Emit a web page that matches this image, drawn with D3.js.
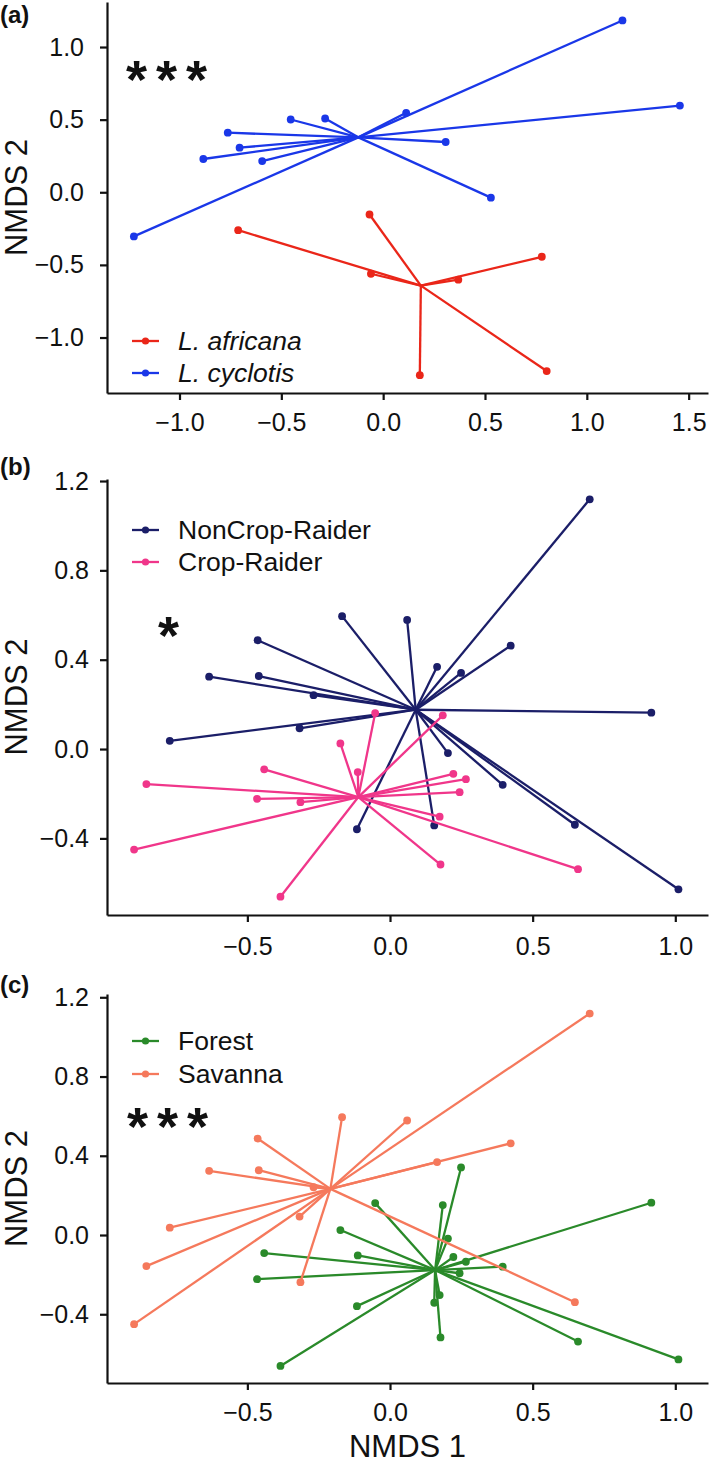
<!DOCTYPE html>
<html>
<head>
<meta charset="utf-8">
<script src="https://cdn.jsdelivr.net/npm/d3@7"></script>
<style>
body { margin: 0; background: #fff; }
text { font-family: "Liberation Sans", Arial, sans-serif; fill: #111; }
.axis path, .axis line { stroke: #111; stroke-width: 2.2; }
.axis text { font-size: 25px; }
</style>
</head>
<body>
<svg id="chart" width="709" height="1469"></svg>
<script>
// (a) species
var speciesNames = ["L. africana", "L. cyclotis"];
var africanaX = [-0.067, -0.712, -0.060, 0.369, 0.779, 0.180, 0.803];
var africanaY = [-0.153, -0.261, -0.561, -0.602, -0.444, -1.259, -1.231];
var cyclotisX = [1.175, 1.457, 0.113, -0.285, -0.454, -0.763, -0.705, -0.883, -0.594, 0.307, 0.529, -1.224];
var cyclotisY = [1.183, 0.597, 0.547, 0.508, 0.501, 0.410, 0.307, 0.229, 0.215, 0.346, -0.037, -0.304];
var speciesCentroidX = [0.185, -0.122];
var speciesCentroidY = [-0.643, 0.378];

// (b) and (c) plot the same individuals, grouped two ways
var sampleX = [0.700, 0.060, -0.168, -0.464, 0.423, 0.165, 0.249, -0.634, -0.460, -0.268,
               -0.317, -0.772, 0.916, 0.203, 0.395, 0.155, -0.116, 0.648, 1.011,
               -0.052, 0.185, -0.174, -0.113, -0.441, -0.854, -0.466, -0.314, 0.222, 0.266,
               0.244, 0.174, -0.897, 0.177, 0.659, -0.384];
var sampleY = [1.118, 0.578, 0.595, 0.487, 0.463, 0.368, 0.341, 0.324, 0.327, 0.241,
               0.093, 0.037, 0.163, -0.018, -0.160, -0.342, -0.359, -0.339, -0.628,
               0.161, 0.151, 0.025, -0.103, -0.091, -0.157, -0.223, -0.238, -0.111, -0.135,
               -0.193, -0.303, -0.450, -0.517, -0.538, -0.661];
var cropStatus = ["N","N","N","N","N","N","N","N","N","N","N","N","N","N","N","N","N","N","N",
                  "C","C","C","C","C","C","C","C","C","C","C","C","C","C","C","C"];
var habitat = ["S","S","S","S","S","S","F","S","S","S","S","S","F","F","F","F","F","S","F",
               "F","F","F","F","F","S","F","S","F","F","F","F","S","F","F","F"];

var cropNames = ["NonCrop-Raider", "Crop-Raider"];
var cropCodes = ["N", "C"];
var cropCentroidX = [0.090, -0.111];
var cropCentroidY = [0.176, -0.215];

var habitatNames = ["Forest", "Savanna"];
var habitatCodes = ["F", "S"];
var habitatCentroidX = [0.158, -0.209];
var habitatCentroidY = [-0.177, 0.233];

var ticksA_x = [-1.0, -0.5, 0.0, 0.5, 1.0, 1.5];
var ticksA_y = [-1.0, -0.5, 0.0, 0.5, 1.0];
var ticksBC_x = [-0.5, 0.0, 0.5, 1.0];
var ticksBC_y = [-0.4, 0.0, 0.4, 0.8, 1.2];

var svg = d3.select("#chart");
var left = 107, right = 708;
var fmt = d3.format(".1f");

function pick(arr, codes, code) {
    return arr.filter(function (d, i) { return codes[i] === code; });
}

function drawPanel(p) {
    var g = svg.append("g").attr("transform", "translate(0," + p.top + ")");
    var x = d3.scaleLinear().domain(p.xDomain).range([left, right]);
    var y = d3.scaleLinear().domain(p.yDomain).range([p.height, 0]);

    g.append("g")
        .attr("class", "axis")
        .attr("transform", "translate(0," + p.height + ")")
        .call(d3.axisBottom(x).tickValues(p.xTicks).tickFormat(fmt)
            .tickSize(7).tickSizeOuter(0).tickPadding(p.xPad));

    g.append("g")
        .attr("class", "axis")
        .attr("transform", "translate(" + left + ",0)")
        .call(d3.axisLeft(y).tickValues(p.yTicks).tickFormat(fmt)
            .tickSize(7).tickSizeOuter(0).tickPadding(p.yPad));

    p.groups.forEach(function (gr) {
        var gg = g.append("g");
        gg.selectAll("line")
            .data(gr.xs)
            .enter().append("line")
            .attr("x1", x(gr.cx))
            .attr("y1", y(gr.cy))
            .attr("x2", function (d) { return x(d); })
            .attr("y2", function (d, i) { return y(gr.ys[i]); })
            .attr("stroke", gr.color)
            .attr("stroke-width", 2.3);
        gg.selectAll("circle")
            .data(gr.xs)
            .enter().append("circle")
            .attr("cx", function (d) { return x(d); })
            .attr("cy", function (d, i) { return y(gr.ys[i]); })
            .attr("r", 3.9)
            .attr("fill", gr.color);
    });

    // legend
    var lg = g.append("g").attr("transform", "translate(0," + p.legendY + ")");
    p.groups.forEach(function (gr, i) {
        var row = lg.append("g").attr("transform", "translate(0," + (i * p.legendGap) + ")");
        row.append("line").attr("x1", 132).attr("x2", 159).attr("y1", 0).attr("y2", 0)
            .attr("stroke", gr.color).attr("stroke-width", 2.3);
        row.append("circle").attr("cx", 145.5).attr("cy", 0).attr("r", 3.6).attr("fill", gr.color);
        row.append("text").attr("x", 178).attr("y", 9)
            .style("font-size", "26.5px")
            .style("font-style", p.italic ? "italic" : "normal")
            .text(gr.name);
    });

    // significance stars
    g.append("text")
        .attr("x", p.starX).attr("y", p.starY)
        .style("font-size", "54px").style("font-weight", "bold")
        .style("letter-spacing", "9px")
        .text(p.stars);

    // panel label
    svg.append("text").attr("x", 0).attr("y", p.top + p.labelDy)
        .style("font-size", "24px").style("font-weight", "bold")
        .text(p.label);

    // y title
    g.append("text")
        .attr("transform", "translate(27," + (p.height / 2) + ") rotate(-90)")
        .attr("text-anchor", "middle")
        .style("font-size", "31px")
        .text("NMDS 2");

    return { x: x, y: y, g: g };
}

drawPanel({
    top: 2, height: 391,
    xDomain: [-1.356, 1.595], yDomain: [-1.382, 1.31],
    xTicks: ticksA_x, yTicks: ticksA_y, xPad: 13, yPad: 16,
    groups: [
        { name: speciesNames[0], color: "#ea2619", xs: africanaX, ys: africanaY,
          cx: speciesCentroidX[0], cy: speciesCentroidY[0] },
        { name: speciesNames[1], color: "#1a37e8", xs: cyclotisX, ys: cyclotisY,
          cx: speciesCentroidX[1], cy: speciesCentroidY[1] }
    ],
    italic: true, legendY: 339, legendGap: 32,
    stars: "***", starX: 126, starY: 96,
    label: "(a)", labelDy: 21
});

drawPanel({
    top: 479, height: 436,
    xDomain: [-0.992, 1.1146], yDomain: [-0.743, 1.209],
    xTicks: ticksBC_x, yTicks: ticksBC_y, xPad: 15, yPad: 11,
    groups: [
        { name: cropNames[0], color: "#1b1e68",
          xs: pick(sampleX, cropStatus, cropCodes[0]), ys: pick(sampleY, cropStatus, cropCodes[0]),
          cx: cropCentroidX[0], cy: cropCentroidY[0] },
        { name: cropNames[1], color: "#f0368a",
          xs: pick(sampleX, cropStatus, cropCodes[1]), ys: pick(sampleY, cropStatus, cropCodes[1]),
          cx: cropCentroidX[1], cy: cropCentroidY[1] }
    ],
    italic: false, legendY: 51, legendGap: 32,
    stars: "*", starX: 158, starY: 175,
    label: "(b)", labelDy: -4
});

drawPanel({
    top: 994, height: 389,
    xDomain: [-0.992, 1.1146], yDomain: [-0.747, 1.2166],
    xTicks: ticksBC_x, yTicks: ticksBC_y, xPad: 13, yPad: 11,
    groups: [
        { name: habitatNames[0], color: "#2a8a2a",
          xs: pick(sampleX, habitat, habitatCodes[0]), ys: pick(sampleY, habitat, habitatCodes[0]),
          cx: habitatCentroidX[0], cy: habitatCentroidY[0] },
        { name: habitatNames[1], color: "#f5795c",
          xs: pick(sampleX, habitat, habitatCodes[1]), ys: pick(sampleY, habitat, habitatCodes[1]),
          cx: habitatCentroidX[1], cy: habitatCentroidY[1] }
    ],
    italic: false, legendY: 47, legendGap: 33,
    stars: "***", starX: 127, starY: 151,
    label: "(c)", labelDy: -1
});

// x title, bottom panel only
svg.append("text")
    .attr("x", (left + right) / 2)
    .attr("y", 1457)
    .attr("text-anchor", "middle")
    .style("font-size", "31px")
    .text("NMDS 1");
</script>
</body>
</html>
